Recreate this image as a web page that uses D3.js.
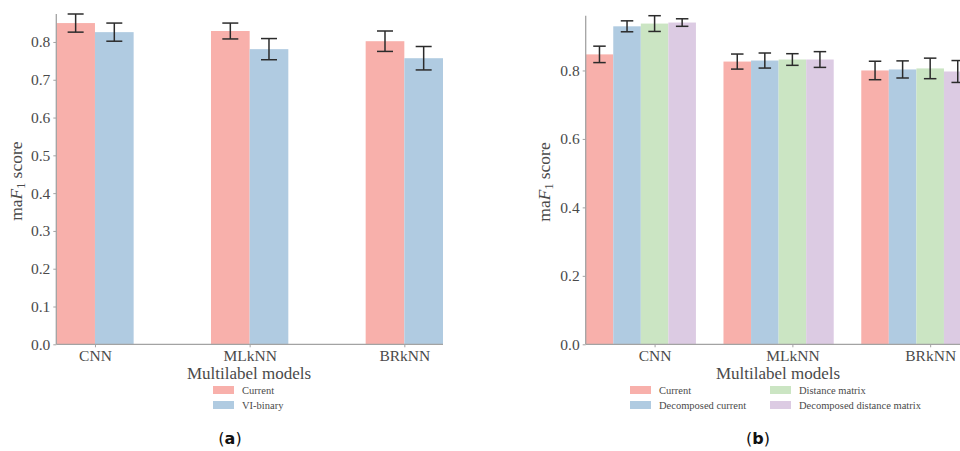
<!DOCTYPE html>
<html><head><meta charset="utf-8">
<script src="https://cdn.jsdelivr.net/npm/d3@7"></script>
<style>
body{margin:0;background:#fff;}
svg{display:block;}
.serif{font-family:"Liberation Serif","DejaVu Serif","Times New Roman",serif;}
</style></head>
<body>
<svg id="c" width="960" height="451"></svg>
<script>
// ---- data ----
const categories = ["CNN", "MLkNN", "BRkNN"];

// panel (a)
const seriesA = ["Current", "VI-binary"];
const currentA = [0.850, 0.829, 0.802];
const currentAErr = [0.024, 0.021, 0.027];
const viBinary = [0.826, 0.781, 0.757];
const viBinaryErr = [0.024, 0.028, 0.031];

// panel (b)
const seriesB = ["Current", "Decomposed current", "Distance matrix", "Decomposed distance matrix"];
const currentB = [0.847, 0.826, 0.800];
const currentBErr = [0.024, 0.022, 0.027];
const decCurrent = [0.929, 0.829, 0.803];
const decCurrentErr = [0.016, 0.022, 0.025];
const distMatrix = [0.937, 0.832, 0.806];
const distMatrixErr = [0.023, 0.017, 0.030];
const decDistMatrix = [0.940, 0.832, 0.797];
const decDistMatrixErr = [0.011, 0.023, 0.032];

const ticksA = [0.0, 0.1, 0.2, 0.3, 0.4, 0.5, 0.6, 0.7, 0.8];
const ticksB = [0.0, 0.2, 0.4, 0.6, 0.8];

const colors = ["#f8b0ab", "#b0cbe1", "#cbe5c3", "#dccbe3"];
const axisColor = "#a3a3a3";
const textColor = "#4a4a4a";

const svg = d3.select("#c");

function serifText(sel, size) {
  sel.attr("class", "serif").attr("font-family", null)
    .style("font-family", '"Liberation Serif","DejaVu Serif",serif')
    .style("font-size", size + "px").attr("fill", textColor);
}

function panel(opts) {
  const {series, values, errs, ticks, x0, x1, yTop, yBot, axisEnd, tickBar,
         capW, yLabelX, caption, capX, legend} = opts;
  const g = svg.append("g");
  const yMax = d3.max(values.flatMap((v, i) => v.map((d, j) => d + errs[i][j])));
  const y = d3.scaleLinear().domain([0, yMax]).range([yBot, yTop]);
  const x = d3.scaleBand().domain(categories).range([x0, x1])
      .paddingInner(opts.padInner).paddingOuter(0);
  const xs = d3.scaleBand().domain(series).range([0, x.bandwidth()]);

  const rows = [];
  series.forEach((s, i) => categories.forEach((c, j) => rows.push({s, i, c, v: values[i][j], e: errs[i][j]})));

  g.selectAll("rect.bar").data(rows).join("rect")
    .attr("x", d => x(d.c) + xs(d.s))
    .attr("width", xs.bandwidth())
    .attr("y", d => y(d.v))
    .attr("height", d => y(0) - y(d.v))
    .attr("fill", d => colors[d.i]);

  const cx = d => x(d.c) + xs(d.s) + xs.bandwidth() / 2;
  const eb = g.selectAll("g.err").data(rows).join("g")
    .attr("stroke", "#2b2b2b").attr("stroke-width", 1.5).attr("fill", "none");
  eb.append("line").attr("x1", cx).attr("x2", cx)
    .attr("y1", d => y(d.v - d.e)).attr("y2", d => y(d.v + d.e));
  eb.append("line").attr("x1", d => cx(d) - capW / 2).attr("x2", d => cx(d) + capW / 2)
    .attr("y1", d => y(d.v + d.e)).attr("y2", d => y(d.v + d.e));
  eb.append("line").attr("x1", d => cx(d) - capW / 2).attr("x2", d => cx(d) + capW / 2)
    .attr("y1", d => y(d.v - d.e)).attr("y2", d => y(d.v - d.e));

  // y axis
  const ya = g.append("g").attr("transform", `translate(${x0},0)`)
    .call(d3.axisLeft(y).tickValues(ticks).tickFormat(d3.format(".1f")).tickSize(3).tickPadding(3));
  ya.attr("font-family", null).attr("font-size", null);
  ya.select(".domain").remove();
  ya.selectAll("line").attr("stroke", axisColor);
  ya.selectAll("text").call(serifText, 15.5);
  g.append("line").attr("x1", x0).attr("x2", x0).attr("y1", y(yMax)).attr("y2", yBot)
    .attr("stroke", axisColor).attr("stroke-width", 1.3);

  // x axis
  const tickPos = d3.scaleOrdinal().domain(categories)
    .range(categories.map(c => x(c) + xs(series[tickBar]) + (opts.tickOnEdge ? 0 : xs.bandwidth() / 2)));
  const xa = g.append("g").attr("transform", `translate(0,${yBot})`)
    .call(d3.axisBottom(tickPos).tickSize(3).tickPadding(3));
  xa.attr("font-family", null).attr("font-size", null);
  xa.select(".domain").remove();
  xa.selectAll("line").attr("stroke", axisColor);
  xa.selectAll("text").call(serifText, 15.5);
  g.append("line").attr("x1", x0).attr("x2", axisEnd).attr("y1", yBot).attr("y2", yBot)
    .attr("stroke", axisColor).attr("stroke-width", 1.3);

  g.append("text").attr("x", opts.xLabelX).attr("y", 379).attr("text-anchor", "middle")
    .call(serifText, 17).text("Multilabel models");

  const yl = g.append("text").attr("transform", `translate(${yLabelX},${(yTop + yBot) / 2 + 2}) rotate(-90)`)
    .attr("text-anchor", "middle").call(serifText, 17.5);
  yl.append("tspan").text("ma");
  yl.append("tspan").style("font-style", "italic").text("F");
  yl.append("tspan").style("font-size", "12px").attr("dy", 3).text("1");
  yl.append("tspan").attr("dy", -3).text(" score");

  // legend
  const lg = g.append("g");
  series.forEach((s, i) => {
    const p = legend[i];
    lg.append("rect").attr("x", p[0]).attr("y", p[1]).attr("width", 21).attr("height", 8).attr("fill", colors[i]);
    lg.append("text").attr("x", p[0] + 29).attr("y", p[1] + 8).call(serifText, 10.5).text(s);
  });

  g.append("text").attr("x", capX).attr("y", 444).attr("text-anchor", "middle")
    .style("font-family", '"DejaVu Sans","Noto Sans",sans-serif').style("font-size", "16px").attr("fill", "#111")
    .call(t => {
      t.append("tspan").text("(");
      t.append("tspan").style("font-weight", "bold").text(caption);
      t.append("tspan").text(")");
    });
}

panel({
  series: seriesA, values: [currentA, viBinary], errs: [currentAErr, viBinaryErr],
  ticks: ticksA, x0: 56.3, x1: 443, padInner: 0.5, yTop: 14, yBot: 344.3, axisEnd: 443,
  tickBar: 1, tickOnEdge: true, capW: 16, yLabelX: 22, caption: "a", capX: 230, xLabelX: 249,
  legend: [[213, 386], [213, 401]]
});

panel({
  series: seriesB, values: [currentB, decCurrent, distMatrix, decDistMatrix],
  errs: [currentBErr, decCurrentErr, distMatrixErr, decDistMatrixErr],
  ticks: ticksB, x0: 585.7, x1: 971.5, padInner: 0.2, yTop: 15.7, yBot: 344.3, axisEnd: 960,
  tickBar: 2, tickOnEdge: false, capW: 12.5, yLabelX: 550, caption: "b", capX: 758, xLabelX: 778,
  legend: [[630, 386], [630, 401], [770, 386], [770, 401]]
});
</script>
</body></html>
